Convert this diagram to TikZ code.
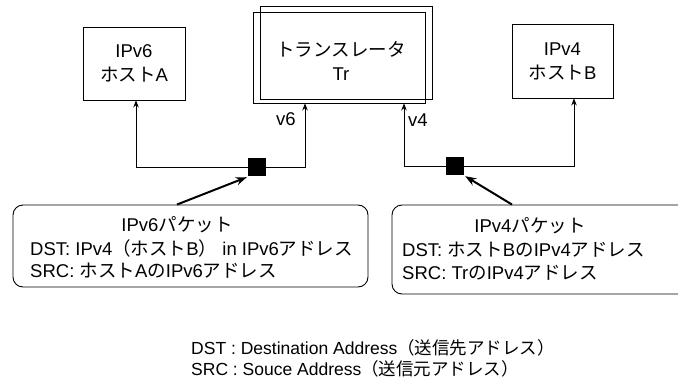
\documentclass[tikz,border=0pt]{standalone}
\usepackage{fontspec}
\setmainfont{Liberation Sans}
\newfontfamily\jp{Noto Sans CJK JP}
\newcommand\J[1]{{\jp #1}}
\usetikzlibrary{arrows.meta,calc}
\tikzset{
  hostbox/.style={draw, line width=0.9pt, inner sep=0pt, align=center,
    font=\fontsize{18.5}{24}\selectfont},
  plainbox/.style={draw, line width=0.9pt, inner sep=0pt},
  txt/.style={inner sep=0pt, font=\fontsize{18.5}{24}\selectfont},
  legtxt/.style={inner sep=0pt, font=\fontsize{17.5}{21}\selectfont},
  arr/.style={line width=0.8pt, -{Stealth[length=7pt,width=5.5pt]}},
  bigarr/.style={line width=2pt, -{Stealth[length=11pt,width=8pt]}},
  pkt/.style={draw, line width=0.9pt, rounded corners=10pt, inner sep=0pt},
  sq/.style={fill=black, minimum size=18pt, inner sep=0pt},
}
\begin{document}
\begin{tikzpicture}[x=1pt,y=-1pt]
\useasboundingbox (0,0) rectangle (678,383);
\clip (0,0) rectangle (678,383);

% hosts
\node[hostbox, minimum width=102pt, minimum height=73pt] (hA) at (134,63.5) {IPv6\\\J{ホスト}A};
\node[hostbox, minimum width=101pt, minimum height=74pt] (hB) at (562.5,61) {IPv4\\\J{ホスト}B};

% translator (double frame)
\node[plainbox, minimum width=172pt, minimum height=91pt] (tr) at (339,57.5) {};
\node[plainbox, minimum width=172pt, minimum height=93pt] (trback) at (346,52.5) {};
\node[txt, align=center] (trtext) at (341,61) {\J{トランスレータ}\\Tr};

% junction squares
\node[sq] (sq1) at (257,167) {};
\node[sq] (sq2) at (455,166) {};

% connectors
\draw[arr] (sq1.west) -| ([xshift=2pt]hA.south);
\draw[arr] (sq1.east) -| ([xshift=-34pt]tr.south);
\draw[arr] (sq2.west) -| ([xshift=65pt]tr.south);
\draw[arr] (sq2.east) -| ([xshift=11.5pt]hB.south);

\node[txt] (v6) at (286,119) {v6};
\node[txt] (v4) at (418,120) {v4};

% packet boxes
\node[pkt, minimum width=355pt, minimum height=82pt] (pkt1) at (190.5,246) {};
\node[pkt, minimum width=298pt, minimum height=89pt] (pkt2) at (541,249.5) {};

\node[txt] (p1title) at (177,225) {IPv6\J{パケット}};
\node[txt, anchor=west] (p1dst) at (30,248) {DST: IPv4\J{（ホスト}B\J{）} in IPv6\J{アドレス}};
\node[txt, anchor=west] (p1src) at (30,271) {SRC: \J{ホスト}A\J{の}IPv6\J{アドレス}};

\node[txt] (p2title) at (530,226) {IPv4\J{パケット}};
\node[txt, anchor=west] (p2dst) at (402,250) {DST: \J{ホスト}B\J{の}IPv4\J{アドレス}};
\node[txt, anchor=west] (p2src) at (402,273) {SRC: Tr\J{の}IPv4\J{アドレス}};

% packet pointers
\draw[bigarr] ([xshift=-13.5pt]pkt1.north) -- ([shift={(-1pt,-1pt)}]sq1.south west);
\draw[bigarr] ([xshift=-29pt]pkt2.north) -- ([shift={(1pt,-1pt)}]sq2.south east);

% legend
\node[legtxt, anchor=west] (lg1) at (191,348) {DST : Destination Address\J{（送信先アドレス）}};
\node[legtxt, anchor=west] (lg2) at (191,369) {SRC : Souce Address\J{（送信元アドレス）}};
\end{tikzpicture}
\end{document}
